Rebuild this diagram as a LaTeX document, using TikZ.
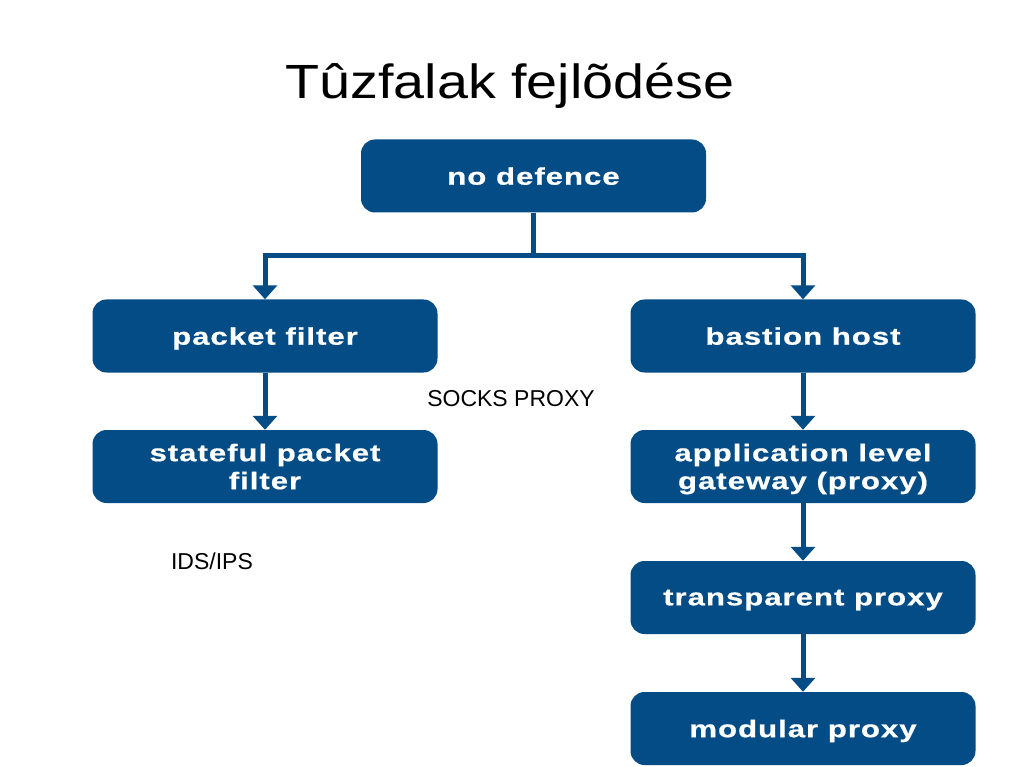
\documentclass[tikz,border=0pt]{standalone}
\usepackage{fontspec}
\setmainfont{Liberation Sans}
\newfontfamily\boxfont{Liberation Sans Bold}[FakeStretch=1.3,LetterSpace=4,FakeBold=0.6]
\newfontfamily\titlefont{Liberation Sans}[FakeStretch=1.16]
\usetikzlibrary{arrows.meta}
\definecolor{stepblue}{RGB}{4,76,134}
\tikzset{
	stagebox/.style={fill=stepblue, rounded corners=14pt, minimum width=345pt, minimum height=73pt,
		text=white, align=center, font=\boxfont\fontsize{24}{28}\selectfont, inner sep=0pt, text depth=0pt},
	link/.style={stepblue, line width=5pt, -{Triangle[width=24pt,length=14pt]}},
	note/.style={anchor=base, inner sep=0pt, font=\fontsize{23}{27}\selectfont}
}
\begin{document}
\begin{tikzpicture}[x=1pt, y=-1pt]
	\useasboundingbox[fill=white] (0,0) rectangle (1023,767);
	\node[anchor=base, inner sep=0pt, font=\titlefont\fontsize{48}{56}\selectfont] (title) at (510,99) {Tûzfalak fejlõdése};
	% boxes
	\node[stagebox] (nodef) at (533.5,176) {no defence};
	\node[stagebox] (pf) at (265,336) {packet filter};
	\node[stagebox] (spf) at (265,466.5) {stateful packet\\filter};
	\node[stagebox] (bh) at (803,336) {bastion host};
	\node[stagebox] (alg) at (803,466.5) {application level\\gateway (proxy)};
	\node[stagebox] (tp) at (803,597.5) {transparent proxy};
	\node[stagebox] (mp) at (803,728.5) {modular proxy};
	% loose labels
	\node[note] (socks) at (511,406) {SOCKS PROXY};
	\node[note] (ids) at (212,569) {IDS/IPS};
	% arrows
	\coordinate (fork) at (533.5,256);
	\draw[stepblue, line width=5pt] (nodef.south) -- (fork);
	\draw[link] (fork) -| (pf.north);
	\draw[link] (fork) -| (bh.north);
	\draw[link] (pf) -- (spf);
	\draw[link] (bh) -- (alg);
	\draw[link] (alg) -- (tp);
	\draw[link] (tp) -- (mp);
\end{tikzpicture}
\end{document}
